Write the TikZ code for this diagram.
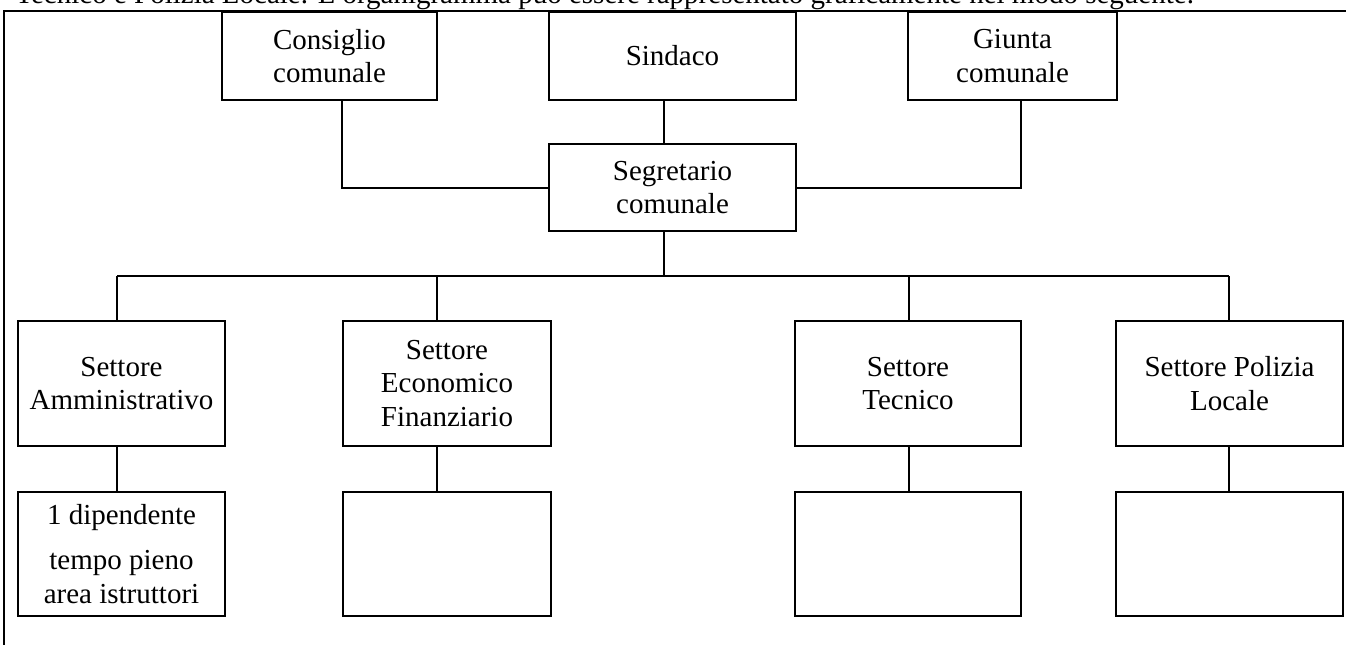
\documentclass[tikz,border=0pt]{standalone}
\usepackage{fontspec}
\setmainfont{Liberation Serif}
\begin{document}
\begin{tikzpicture}[x=0.5pt,y=-0.5pt,
  txtfont/.style={font=\fontsize{14.5pt}{16.8pt}\selectfont},
  box/.style={draw, line width=0.8pt, rectangle, inner sep=0pt, align=center, txtfont},
  thickbox/.style={box, line width=1.3pt},
  midbox/.style={box, line width=1.05pt},
  toprow/.style={minimum height=44pt},
  secrow/.style={minimum height=62.5pt},
  subrow/.style={minimum height=62pt},
  conn/.style={line width=1pt},
  frameline/.style={line width=1.2pt}
]
\useasboundingbox (0,0) rectangle (1346,644);
\clip (0,0) rectangle (1346,644);

% intro text (cut at top) and frame
\node[txtfont, anchor=base west, inner sep=0pt] (intro) at (15,3)
  {Tecnico e Polizia Locale. L’organigramma può essere rappresentato graficamente nel modo seguente.};
\coordinate (fBL) at (4,646);
\coordinate (fTL) at (4,11);
\coordinate (fTR) at (1348,11);
\draw[frameline] (fBL) -- (fTL) -- (fTR);

% top row
\node[box, toprow, minimum width=107.5pt] (cons) at (329.5,56) {Consiglio\\comunale};
\node[box, toprow, minimum width=123.5pt] (sind) at (672.5,56) {Sindaco};
\node[box, toprow, minimum width=104.5pt] (giun) at (1012.5,56) {Giunta\\comunale};
\node[box, minimum height=43.5pt, minimum width=123.5pt] (segr) at (672.5,187.5) {Segretario\\comunale};

% sectors
\node[thickbox, secrow, minimum width=103.5pt] (amm) at (121.5,383.5) {Settore\\Amministrativo};
\node[box, secrow, minimum width=104pt] (eco) at (447,383.5) {Settore\\Economico\\Finanziario};
\node[box, secrow, minimum width=113pt] (tec) at (908,383.5) {Settore\\Tecnico};
\node[box, secrow, minimum width=113.5pt] (pol) at (1229.5,383.5) {Settore Polizia\\Locale};

% sub boxes
\node[thickbox, subrow, minimum width=103.5pt] (amms) at (121.5,554)
  {1 dipendente\\[5.7pt]tempo pieno\\area istruttori};
\node[thickbox, subrow, minimum width=104pt] (ecos) at (447,554) {};
\node[midbox, subrow, minimum width=113pt] (tecs) at (908,554) {};
\node[midbox, subrow, minimum width=113.5pt] (pols) at (1229.5,554) {};

% top connectors
\draw[conn] ([xshift=6.25pt]cons.south) |- (segr.west);
\draw[conn] ([xshift=4.25pt]giun.south) |- (segr.east);
\draw[conn] ([xshift=-4.25pt]sind.south) -- ([xshift=-4.25pt]segr.north);

% bus
\coordinate (b1) at (117,276);
\coordinate (b2) at (437,276);
\coordinate (b3) at (909,276);
\coordinate (b4) at (1229,276);
\draw[conn] ([xshift=-4.25pt]segr.south) -- ([xshift=-4.25pt]segr.south |- b1);
\draw[conn] (b1) -- (b4);
\draw[conn] (b1) -- (b1 |- amm.north);
\draw[conn] (b2) -- (b2 |- eco.north);
\draw[conn] (b3) -- (b3 |- tec.north);
\draw[conn] (b4) -- (b4 |- pol.north);

% lower connectors
\draw[conn] (b1 |- amm.south) -- (b1 |- amms.north);
\draw[conn] (b2 |- eco.south) -- (b2 |- ecos.north);
\draw[conn] (b3 |- tec.south) -- (b3 |- tecs.north);
\draw[line width=0.6pt] (b4 |- pol.south) -- (b4 |- pols.north);
\end{tikzpicture}
\end{document}
